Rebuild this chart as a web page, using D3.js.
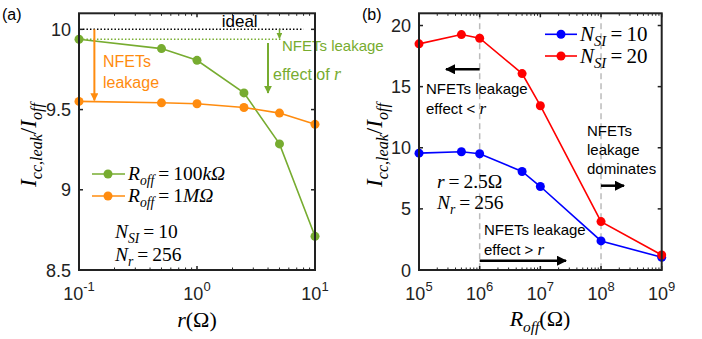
<!DOCTYPE html>
<html>
<head>
<meta charset="utf-8">
<script src="https://cdn.jsdelivr.net/npm/d3@7"></script>
<style>
  body { margin: 0; background: white; }
  text { font-family: "Liberation Sans", Arial, sans-serif; }
  .math { font-family: "Liberation Serif", "Times New Roman", serif; font-style: italic; }
</style>
</head>
<body>
<div id="chart"></div>
<script>
// panel (a) data
const rVals = [0.1, 0.5, 1, 2.5, 5, 10];
const green100k = [9.938, 9.88, 9.807, 9.604, 9.286, 8.71];
const orange1M = [9.551, 9.542, 9.536, 9.513, 9.478, 9.408];
const aYTicks = [8.5, 9, 9.5, 10];
const aXTicks = [0.1, 1, 10];
const aXExp = ["-1", "0", "1"];

// panel (b) data
const roffVals = [1e5, 5e5, 1e6, 5e6, 1e7, 1e8, 1e9];
const nsi10 = [9.56, 9.67, 9.51, 8.06, 6.83, 2.38, 1.04];
const nsi20 = [18.5, 19.26, 18.96, 16.07, 13.44, 3.96, 1.23];
const bYTicks = [0, 5, 10, 15, 20];
const bXTicks = [1e5, 1e6, 1e7, 1e8, 1e9];
const bXExp = ["5", "6", "7", "8", "9"];
const dashedAt = [1e6, 1e8];

const width = 702, height = 339;
const green = "#77ac30", orange = "#ff8c0f", blue = "#0000ff", red = "#ff0000";

const svg = d3.select("#chart").append("svg")
    .attr("width", width)
    .attr("height", height);

// math-ish text: parts = [text, opts] with opts.sub, opts.up (back from sub), opts.rm (upright)
function mathText(g, x, y, parts, size, anchor, color) {
    const t = g.append("text")
        .attr("x", x).attr("y", y)
        .attr("font-size", size)
        .attr("text-anchor", anchor || "start")
        .attr("fill", color || "black")
        .attr("class", "math");
    parts.forEach(p => {
        const o = p[1] || {};
        const s = t.append("tspan").text(p[0]);
        if (o.sub) s.attr("font-size", size * 0.7).attr("dy", size * 0.25);
        if (o.up) s.attr("dy", -size * 0.25);
        if (o.rm) s.attr("font-style", "normal");
    });
    return t;
}

function frame(g, x, y) {
    g.append("rect")
        .attr("x", x.range()[0]).attr("y", y.range()[1])
        .attr("width", x.range()[1] - x.range()[0])
        .attr("height", y.range()[0] - y.range()[1])
        .attr("fill", "none").attr("stroke", "#222").attr("stroke-width", 2);
}

function ticks(g, x, y, yTicks, xMajor, xMinor) {
    const [x0, x1] = x.range(), [y0, y1] = y.range();
    yTicks.forEach(v => {
        g.append("line").attr("x1", x0).attr("x2", x0 + 4).attr("y1", y(v)).attr("y2", y(v)).attr("stroke", "#222").attr("stroke-width", 1.5);
        g.append("line").attr("x1", x1).attr("x2", x1 - 4).attr("y1", y(v)).attr("y2", y(v)).attr("stroke", "#222").attr("stroke-width", 1.5);
        g.append("text").attr("x", x0 - 8).attr("y", y(v) + 6.5)
            .attr("text-anchor", "end").attr("font-size", 18).attr("fill", "#222").text(v);
    });
    xMajor.forEach(v => {
        g.append("line").attr("x1", x(v)).attr("x2", x(v)).attr("y1", y0).attr("y2", y0 - 4).attr("stroke", "#222").attr("stroke-width", 1.5);
        g.append("line").attr("x1", x(v)).attr("x2", x(v)).attr("y1", y1).attr("y2", y1 + 4).attr("stroke", "#222").attr("stroke-width", 1.5);
    });
    xMinor.forEach(v => {
        g.append("line").attr("x1", x(v)).attr("x2", x(v)).attr("y1", y0).attr("y2", y0 - 2.5).attr("stroke", "#222").attr("stroke-width", 1);
        g.append("line").attr("x1", x(v)).attr("x2", x(v)).attr("y1", y1).attr("y2", y1 + 2.5).attr("stroke", "#222").attr("stroke-width", 1);
    });
}

function xLabels(g, x, yPix, vals, exps) {
    vals.forEach((v, i) => {
        const t = g.append("text").attr("x", x(v)).attr("y", yPix)
            .attr("text-anchor", "middle").attr("font-size", 18).attr("fill", "#222");
        t.append("tspan").text("10");
        t.append("tspan").text(exps[i]).attr("font-size", 13).attr("dy", -9);
    });
}

function minorLog(lo, hi) {
    const out = [];
    for (let e = Math.log10(lo); e < Math.log10(hi); e++)
        for (let k = 2; k <= 9; k++) out.push(k * Math.pow(10, e));
    return out;
}

function series(g, x, y, xs, ys, color, r) {
    const pts = xs.map((v, i) => [v, ys[i]]);
    g.append("path").datum(pts)
        .attr("d", d3.line().x(d => x(d[0])).y(d => y(d[1])))
        .attr("fill", "none").attr("stroke", color).attr("stroke-width", 1.6);
    g.selectAll(null).data(pts).enter().append("circle")
        .attr("cx", d => x(d[0])).attr("cy", d => y(d[1]))
        .attr("r", r || 4.5).attr("fill", color);
}

const defs = svg.append("defs");
[["ah-green", green], ["ah-orange", orange], ["ah-black", "black"]].forEach(([id, c]) => {
    defs.append("marker").attr("id", id).attr("viewBox", "0 0 10 10")
        .attr("refX", 9).attr("refY", 5).attr("markerWidth", 4).attr("markerHeight", 4)
        .attr("orient", "auto-start-reverse")
        .append("path").attr("d", "M0,0 L10,5 L0,10 z").attr("fill", c);
});

function arrow(g, x1, y1, x2, y2, color, id, w) {
    g.append("line").attr("x1", x1).attr("y1", y1).attr("x2", x2).attr("y2", y2)
        .attr("stroke", color).attr("stroke-width", w || 2)
        .attr("marker-end", "url(#" + id + ")");
}

const SUB = {sub: true}, UPRM = {up: true, rm: true}, RM = {rm: true};

// ---------------- panel (a) ----------------
const ga = svg.append("g");
const xa = d3.scaleLog().domain([0.1, 10]).range([79, 315]);
const ya = d3.scaleLinear().domain([8.5, 10.1]).range([270, 13.3]);

// ideal line
ga.append("line").attr("x1", xa(0.108)).attr("x2", xa(8.0))
    .attr("y1", ya(10)).attr("y2", ya(10))
    .attr("stroke", "black").attr("stroke-width", 1.5).attr("stroke-dasharray", "1.5,2");
ga.append("text").attr("x", xa(2.3)).attr("y", ya(10) - 2).attr("text-anchor", "middle")
    .attr("font-family", "Liberation Serif, serif").attr("font-size", 17).text("ideal");
ga.append("line").attr("x1", xa(0.108)).attr("x2", xa(5.2))
    .attr("y1", ya(green100k[0])).attr("y2", ya(green100k[0]))
    .attr("stroke", green).attr("stroke-width", 1.5).attr("stroke-dasharray", "1.5,2");

series(ga, xa, ya, rVals, green100k, green);
series(ga, xa, ya, rVals, orange1M, orange);

// annotations
arrow(ga, xa(0.135), ya(10), xa(0.135), ya(orange1M[0]) - 1, orange, "ah-orange", 2);
ga.append("text").attr("x", 103).attr("y", 67).attr("font-size", 16).attr("fill", orange).text("NFETs");
ga.append("text").attr("x", 103).attr("y", 88).attr("font-size", 16).attr("fill", orange).text("leakage");
arrow(ga, xa(5), ya(10), xa(5), ya(green100k[0]) - 1, green, "ah-green", 1.5);
arrow(ga, 268, 43, 268, 93, green, "ah-green", 2);
ga.append("text").attr("x", 282).attr("y", 51).attr("font-size", 15).attr("fill", green).text("NFETs leakage");
const eff = ga.append("text").attr("x", 273).attr("y", 80).attr("font-size", 16).attr("fill", green);
eff.append("tspan").text("effect of ");
eff.append("tspan").text("r").attr("font-family", "Liberation Serif, serif").attr("font-style", "italic").attr("font-size", 18);

// legend
[[green, 174, "100", "k"], [orange, 196, "1", "M"]].forEach(([c, yy, num, unit]) => {
    ga.append("line").attr("x1", 92).attr("x2", 125).attr("y1", yy).attr("y2", yy).attr("stroke", c).attr("stroke-width", 1.6);
    ga.append("circle").attr("cx", 108).attr("cy", yy).attr("r", 4.5).attr("fill", c);
    mathText(ga, 128, yy + 6, [["R"], ["off", SUB], ["\u2009=\u2009" + num, UPRM], [unit], ["Ω"]], 19.5);
});
mathText(ga, 115, 238, [["N"], ["SI", SUB], ["\u2009=\u200910", UPRM]], 19.5);
mathText(ga, 115, 261, [["N"], ["r", SUB], ["\u2009=\u2009256", UPRM]], 19.5);

frame(ga, xa, ya);
ticks(ga, xa, ya, aYTicks, aXTicks, minorLog(0.1, 10));
xLabels(ga, xa, 300, aXTicks, aXExp);
mathText(ga, 197, 327, [["r"], ["(Ω)", RM]], 22, "middle");
mathText(ga.append("g").attr("transform", "translate(36,145) rotate(-90)"), 0, 0,
    [["I"], ["cc,leak", SUB], ["/", UPRM], ["I"], ["off", SUB]], 23, "middle");
ga.append("text").attr("x", 2).attr("y", 20).attr("font-size", 16).text("(a)");

// ---------------- panel (b) ----------------
const gb = svg.append("g");
const xb = d3.scaleLog().domain([1e5, 1e9]).range([419, 661.7]);
const yb = d3.scaleLinear().domain([0, 21]).range([270, 13.3]);

dashedAt.forEach(v => {
    gb.append("line").attr("x1", xb(v)).attr("x2", xb(v)).attr("y1", yb(21)).attr("y2", yb(0))
        .attr("stroke", "#bbb").attr("stroke-width", 1.5).attr("stroke-dasharray", "6,4");
});

series(gb, xb, yb, roffVals, nsi10, blue);
series(gb, xb, yb, roffVals, nsi20, red);

// legend
[[blue, 34.3, "10"], [red, 56, "20"]].forEach(([c, yy, val]) => {
    gb.append("line").attr("x1", 545).attr("x2", 577).attr("y1", yy).attr("y2", yy).attr("stroke", c).attr("stroke-width", 1.6);
    gb.append("circle").attr("cx", 561).attr("cy", yy).attr("r", 4.5).attr("fill", c);
    mathText(gb, 580, yy + 6.5, [["N"], ["SI", SUB], ["\u2009=\u2009" + val, UPRM]], 21);
});

arrow(gb, xb(1e6), 69.3, 446, 69.3, "black", "ah-black", 2.5);
gb.append("text").attr("x", 426).attr("y", 94).attr("font-size", 15).text("NFETs leakage");
const e1 = gb.append("text").attr("x", 426).attr("y", 114).attr("font-size", 15);
e1.append("tspan").text("effect < ");
e1.append("tspan").text("r").attr("font-family", "Liberation Serif, serif").attr("font-style", "italic").attr("font-size", 17);

mathText(gb, 437, 188, [["r"], ["\u2009=\u20092.5Ω", RM]], 19.5);
mathText(gb, 437, 209, [["N"], ["r", SUB], ["\u2009=\u2009256", UPRM]], 19.5);

gb.append("text").attr("x", 484).attr("y", 235).attr("font-size", 15).text("NFETs leakage");
const e2 = gb.append("text").attr("x", 484).attr("y", 255).attr("font-size", 15);
e2.append("tspan").text("effect > ");
e2.append("tspan").text("r").attr("font-family", "Liberation Serif, serif").attr("font-style", "italic").attr("font-size", 17);
arrow(gb, xb(1e6), 260.7, 566, 260.7, "black", "ah-black", 2.5);

["NFETs", "leakage", "dominates"].forEach((s, i) => {
    gb.append("text").attr("x", 587).attr("y", 136 + i * 19).attr("font-size", 15).text(s);
});
arrow(gb, xb(1e8), 185.7, 624, 185.7, "black", "ah-black", 2.5);

frame(gb, xb, yb);
ticks(gb, xb, yb, bYTicks, bXTicks, minorLog(1e5, 1e9));
xLabels(gb, xb, 300, bXTicks, bXExp);
mathText(gb, 540, 326, [["R"], ["off", SUB], ["(Ω)", UPRM]], 22, "middle");
mathText(gb.append("g").attr("transform", "translate(382,145) rotate(-90)"), 0, 0,
    [["I"], ["cc,leak", SUB], ["/", UPRM], ["I"], ["off", SUB]], 23, "middle");
gb.append("text").attr("x", 362).attr("y", 20).attr("font-size", 16).text("(b)");
</script>
</body>
</html>
